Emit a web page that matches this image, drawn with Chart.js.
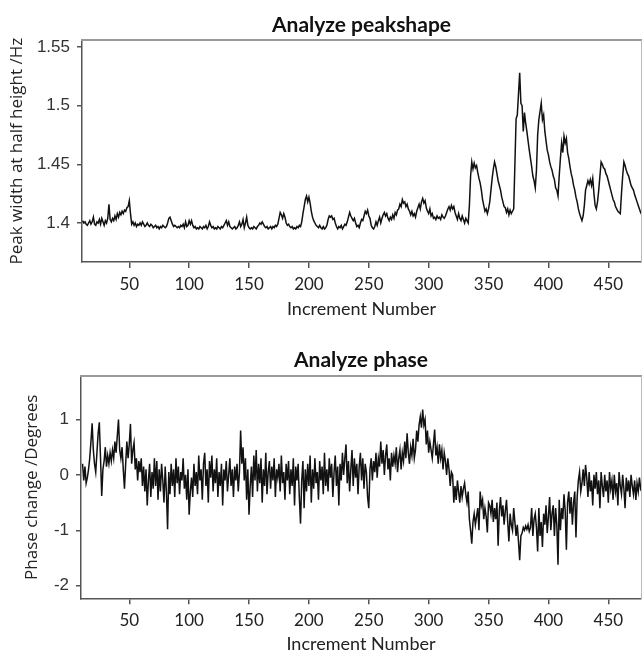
<!DOCTYPE html>
<html>
<head>
<meta charset="utf-8">
<script src="https://cdn.jsdelivr.net/npm/chart.js@4.4.1/dist/chart.umd.min.js"></script>
<style>
html, body { margin: 0; padding: 0; background: #fff; overflow: hidden; }
canvas { position: absolute; left: 0; }
#peakCanvas { top: 0; }
#phaseCanvas { top: 325px; }
</style>
</head>
<body>
<canvas id="peakCanvas" width="642" height="325"></canvas>
<canvas id="phaseCanvas" width="642" height="340"></canvas>
<script>
// increments run 11 .. 478, one value per increment
const firstIncrement = 11
const incrementTicks = [50, 100, 150, 200, 250, 300, 350, 400, 450]
const peakTicks = [1.4, 1.45, 1.5, 1.55]
const phaseTicks = [-2, -1, 0, 1]

const peakWidth = [
  1.402, 1.400, 1.401, 1.399, 1.398, 1.400, 1.402, 1.399, 1.401, 1.405,
  1.399, 1.398, 1.401, 1.400, 1.403, 1.399, 1.404, 1.401, 1.398, 1.402,
  1.400, 1.404, 1.416, 1.403, 1.401, 1.404, 1.402, 1.406, 1.403, 1.408,
  1.405, 1.409, 1.407, 1.410, 1.408, 1.411, 1.410, 1.413, 1.414, 1.419,
  1.408, 1.399, 1.401, 1.398, 1.400, 1.397, 1.399, 1.398, 1.400, 1.398,
  1.401, 1.399, 1.397, 1.398, 1.400, 1.398, 1.397, 1.399, 1.398, 1.396,
  1.397, 1.398, 1.396, 1.397, 1.395, 1.397, 1.396, 1.398, 1.397, 1.396,
  1.397, 1.400, 1.404, 1.405, 1.402, 1.399, 1.397, 1.398, 1.397, 1.396,
  1.397, 1.396, 1.398, 1.397, 1.399, 1.396, 1.401, 1.397, 1.398, 1.402,
  1.399, 1.402, 1.398, 1.396, 1.397, 1.395, 1.396, 1.395, 1.397, 1.396,
  1.395, 1.397, 1.396, 1.398, 1.395, 1.397, 1.401, 1.398, 1.396, 1.397,
  1.395, 1.396, 1.395, 1.397, 1.396, 1.395, 1.397, 1.396, 1.398, 1.400,
  1.402, 1.398, 1.401, 1.397, 1.396, 1.395, 1.396, 1.397, 1.395, 1.396,
  1.398, 1.401, 1.397, 1.399, 1.403, 1.396, 1.400, 1.405, 1.398, 1.396,
  1.395, 1.396, 1.395, 1.397, 1.396, 1.395, 1.397, 1.398, 1.400, 1.399,
  1.401, 1.399, 1.397, 1.396, 1.397, 1.395, 1.396, 1.397, 1.395, 1.397,
  1.396, 1.398, 1.397, 1.399, 1.404, 1.409, 1.407, 1.404, 1.408, 1.405,
  1.400, 1.398, 1.399, 1.397, 1.396, 1.397, 1.395, 1.396, 1.395, 1.397,
  1.396, 1.398, 1.397, 1.401, 1.408, 1.414, 1.420, 1.423, 1.418, 1.422,
  1.417, 1.410, 1.405, 1.402, 1.400, 1.398, 1.397, 1.396, 1.398, 1.396,
  1.395, 1.397, 1.395, 1.396, 1.398, 1.403, 1.406, 1.405, 1.406, 1.403,
  1.404, 1.400, 1.397, 1.395, 1.397, 1.396, 1.398, 1.395, 1.397, 1.399,
  1.398, 1.401, 1.405, 1.409, 1.406, 1.404, 1.402, 1.404, 1.400, 1.397,
  1.398, 1.396, 1.400, 1.403, 1.402, 1.406, 1.410, 1.408, 1.411, 1.406,
  1.404, 1.398, 1.396, 1.395, 1.397, 1.401, 1.398, 1.402, 1.405, 1.400,
  1.404, 1.407, 1.409, 1.406, 1.408, 1.404, 1.402, 1.405, 1.403, 1.407,
  1.404, 1.409, 1.407, 1.411, 1.412, 1.416, 1.414, 1.420, 1.417, 1.418,
  1.414, 1.416, 1.412, 1.410, 1.407, 1.410, 1.406, 1.408, 1.405, 1.410,
  1.413, 1.416, 1.412, 1.418, 1.421, 1.417, 1.419, 1.413, 1.410, 1.408,
  1.412, 1.406, 1.408, 1.404, 1.405, 1.403, 1.406, 1.404, 1.405, 1.403,
  1.407, 1.405, 1.404, 1.406, 1.409, 1.412, 1.414, 1.411, 1.415, 1.412,
  1.414, 1.409, 1.406, 1.403, 1.408, 1.404, 1.402, 1.406, 1.403, 1.400,
  1.404, 1.402, 1.400, 1.415, 1.440, 1.452, 1.446, 1.451, 1.447, 1.449,
  1.443, 1.438, 1.434, 1.428, 1.420, 1.415, 1.410, 1.412, 1.408, 1.412,
  1.418, 1.428, 1.438, 1.446, 1.452, 1.448, 1.442, 1.436, 1.432, 1.428,
  1.422, 1.418, 1.414, 1.413, 1.409, 1.412, 1.407, 1.411, 1.408, 1.410,
  1.412, 1.450, 1.489, 1.492, 1.510, 1.528, 1.502, 1.500, 1.478, 1.494,
  1.485, 1.478, 1.470, 1.462, 1.455, 1.448, 1.440, 1.436, 1.430, 1.445,
  1.475, 1.488, 1.495, 1.502, 1.488, 1.492, 1.478, 1.470, 1.462, 1.458,
  1.452, 1.448, 1.445, 1.440, 1.437, 1.430, 1.428, 1.423, 1.440, 1.455,
  1.468, 1.460, 1.474, 1.468, 1.472, 1.460, 1.455, 1.448, 1.442, 1.438,
  1.432, 1.428, 1.422, 1.418, 1.412, 1.408, 1.405, 1.402, 1.406, 1.415,
  1.428, 1.432, 1.436, 1.433, 1.437, 1.432, 1.438, 1.425, 1.415, 1.412,
  1.418, 1.428, 1.440, 1.452, 1.450, 1.447, 1.446, 1.442, 1.440, 1.436,
  1.432, 1.428, 1.424, 1.420, 1.418, 1.414, 1.412, 1.410, 1.409, 1.408,
  1.425, 1.440, 1.452, 1.449, 1.445, 1.442, 1.440, 1.436, 1.432, 1.430,
  1.428, 1.424, 1.421, 1.418, 1.415, 1.412, 1.409, 1.407
]

const phaseChange = [
  0.2, -0.1, 0.15, -0.15, -0.05, 0.1, 0.3, 0.6, 0.93, 0.45,
  0.2, 0.05, 0.4, 0.75, 0.95, 0.3, -0.38, 0.1, 0.25, 0.5,
  0.15, 0.35, 0.2, 0.4, 0.25, 0.45, 0.3, 0.6, 0.4, 0.7,
  1.0, 0.45, 0.3, 0.5, 0.1, -0.25, 0.2, 0.6, 0.3, 0.55,
  0.92, 0.2, 0.45, 0.58, 0.1, 0.3, -0.1, 0.25, 0.05, 0.3,
  -0.2, 0.15, -0.3, 0.1, -0.55, -0.1, 0.2, -0.4, 0.05, -0.25,
  0.3, -0.2, 0.25, -0.45, 0.1, -0.3, 0.2, -0.1, -0.5, 0.15,
  -0.3, -0.98, 0.05, -0.35, 0.2, -0.2, 0.1, -0.4, 0.3, -0.15,
  0.15, -0.35, 0.05, -0.1, 0.3, -0.25, 0.0, -0.45, 0.1, -0.72,
  -0.3, -0.05, -0.4, 0.2, -0.2, 0.05, -0.35, 0.35, -0.1, 0.1,
  -0.45, 0.2, 0.4, -0.2, 0.1, -0.5, 0.25, -0.05, 0.35, -0.3,
  0.1, -0.15, 0.3, -0.4, 0.05, -0.2, 0.2, -0.55, 0.1, -0.1,
  0.25, -0.3, 0.0, 0.3, -0.2, 0.1, -0.4, 0.15, -0.1, 0.2,
  -0.3, 0.05, 0.8, 0.2, 0.5, -0.1, 0.3, -0.45, 0.1, -0.72,
  -0.2, 0.15, -0.4, 0.35, -0.1, 0.45, -0.3, 0.2, -0.15, 0.3,
  -0.5, 0.1, -0.2, 0.4, -0.35, 0.05, 0.25, -0.25, 0.15, -0.1,
  0.3, -0.4, 0.1, -0.05, 0.2, -0.3, 0.35, -0.15, 0.05, -0.45,
  0.2, -0.1, 0.25, -0.35, 0.1, -0.2, 0.3, -0.55, 0.15, -0.1,
  0.2, -0.4, -0.88, -0.1, 0.25, -0.6, 0.1, -0.3, 0.2, -0.2,
  0.35, -0.5, 0.1, -0.25, 0.3, -0.15, 0.05, -0.45, 0.25, -0.1,
  0.15, -0.35, 0.4, -0.2, 0.1, -0.3, 0.3, -0.05, 0.2, -0.4,
  0.05, 0.35, -0.2, 0.15, -0.55, 0.2, -0.1, 0.4, 0.0, 0.3,
  0.55, -0.15, 0.25, -0.3, 0.1, 0.45, -0.2, 0.3, -0.05, 0.2,
  -0.35, 0.15, 0.4, -0.1, 0.3, -0.25, 0.2, 0.05, -0.4, -0.6,
  0.1, 0.3, -0.1, 0.25, 0.05, 0.4, -0.05, 0.3, 0.15, 0.6,
  0.2, 0.45, 0.0, 0.35, 0.55, 0.1, 0.3, -0.1, 0.4, 0.15,
  0.35, 0.2, 0.5, 0.05, 0.3, 0.45, 0.1, 0.4, 0.25, 0.6,
  0.3, 0.75, 0.4, 0.2, 0.5, 0.35, 0.65, 0.3, 0.45, 0.8,
  0.6, 0.9, 1.05, 0.85, 1.18, 0.9, 1.0, 0.55, 0.8, 0.4,
  0.6, 0.45, 0.3, 0.55, 0.82, 0.35, 0.5, 0.2, 0.55, 0.3,
  0.45, 0.1, 0.4, 0.25, 0.0, 0.3, 0.1, -0.2, 0.05, 0.0,
  -0.5, -0.2, -0.45, -0.1, -0.3, -0.5, -0.2, -0.4, -0.25, -0.15,
  -0.35, -0.5, -0.3, -0.8, -1.0, -1.24, -0.85, -0.7, -0.9, -0.75,
  -0.6, -1.0, -0.3, -0.55, -0.45, -0.8, -0.6, -0.75, -1.04, -0.5,
  -0.55, -0.7, -0.45, -0.85, -0.6, -0.8, -0.5, -1.28, -0.65, -0.4,
  -0.75, -0.55, -0.9, -0.65, -0.45, -0.85, -1.2, -0.7, -0.9, -1.0,
  -0.6, -0.85, -1.1, -0.9, -1.2, -1.54, -1.1, -1.05, -0.95, -1.0,
  -0.92, -0.98, -0.9, -1.02, -0.95, -0.6, -1.1, -0.8, -0.7, -0.95,
  -1.38, -0.6, -1.1, -0.85, -1.3, -0.7, -0.9, -0.55, -1.05, -0.75,
  -0.4, -1.0, -0.7, -0.55, -1.1, -0.6, -0.9, -1.62, -0.45, -1.0,
  -0.6, -0.8, -0.35, -0.65, -1.35, -0.5, -0.3, -0.7, -0.4, -0.9,
  -0.5, -0.3, -1.13, -0.4, -0.1, 0.05, -0.3, -0.15, 0.1, -0.2,
  0.18, -0.05, -0.4, 0.05, -0.3, -0.1, -0.55, 0.0, -0.25, 0.05,
  -0.35, -0.1, -0.6, 0.05, -0.2, -0.4, 0.0, -0.3, -0.1, -0.5,
  0.05, -0.25, -0.1, -0.45, 0.0, -0.3, -0.15, -0.55, 0.05, -0.2,
  -0.35, 0.0, -0.25, -0.6, -0.05, -0.3, -0.1, -0.4, 0.0, -0.2,
  -0.35, -0.1, -0.45, -0.15, -0.3, -0.05, -0.25, -0.2
]

const axisColor = '#555'
const frameColor = '#999'
const textColor = '#222'

function toPoints(values) {
  return values.map((v, i) => ({ x: firstIncrement + i, y: v }))
}

function makePanel(canvasId, cfg) {
  const ctx = document.getElementById(canvasId).getContext('2d')
  return new Chart(ctx, {
    type: 'line',
    data: {
      datasets: [{
        data: toPoints(cfg.values),
        borderColor: '#111',
        borderWidth: 1.5,
        pointRadius: 0,
        tension: 0,
        fill: false
      }]
    },
    options: {
      responsive: false,
      animation: false,
      devicePixelRatio: 1,
      layout: { padding: { left: 0, right: 1, top: 0, bottom: 0 } },
      plugins: {
        legend: { display: false },
        tooltip: { enabled: false },
        title: {
          display: true,
          text: cfg.title,
          fullSize: false,
          color: '#111',
          font: { family: 'Lato', size: 21, weight: 'bold' },
          padding: cfg.titlePadding
        }
      },
      scales: {
        x: {
          type: 'linear',
          position: 'bottom',
          min: cfg.xMin,
          max: 477.3,
          afterBuildTicks: s => { s.ticks = incrementTicks.map(v => ({ value: v })) },
          afterFit: s => { s.height = cfg.xAxisHeight },
          grid: { drawOnChartArea: false, drawTicks: true, tickLength: 6, color: axisColor, lineWidth: 1.5 },
          border: { color: axisColor, width: 1.5 },
          ticks: {
            color: textColor,
            padding: 6,
            maxRotation: 0,
            font: { family: 'Lato', size: 17 },
            callback: v => String(v)
          },
          title: {
            display: true,
            text: 'Increment Number',
            color: textColor,
            font: { family: 'Lato', size: 18 },
            padding: { top: 0, bottom: cfg.xTitlePad }
          }
        },
        y: {
          type: 'linear',
          position: 'left',
          min: cfg.yMin,
          max: cfg.yMax,
          afterBuildTicks: s => { s.ticks = cfg.yTicks.map(v => ({ value: v })) },
          afterFit: s => { s.width = cfg.yAxisWidth },
          grid: { drawOnChartArea: false, drawTicks: true, tickLength: 5, color: axisColor, lineWidth: 1.5 },
          border: { color: axisColor, width: 1.5 },
          ticks: {
            color: '#333',
            padding: 7,
            font: { family: 'Liberation Sans', size: 17 },
            callback: v => String(v)
          },
          title: {
            display: true,
            text: cfg.yTitle,
            color: textColor,
            font: { family: 'Open Sans', size: 17 },
            padding: { top: cfg.yTitlePad, bottom: 0 }
          }
        },
        frameTop: {
          type: 'linear',
          position: 'top',
          min: 0, max: 1,
          ticks: { display: false },
          grid: { drawOnChartArea: false, drawTicks: false },
          border: { color: frameColor, width: 2 }
        },
        frameRight: {
          type: 'linear',
          position: 'right',
          min: 0, max: 1,
          ticks: { display: false },
          grid: { drawOnChartArea: false, drawTicks: false },
          border: { color: '#bbb', width: 1 }
        }
      }
    }
  })
}

makePanel('peakCanvas', {
  values: peakWidth,
  title: 'Analyze peakshape',
  titlePadding: { top: 13, bottom: 2 },
  xMin: 10.5,
  xAxisHeight: 63,
  xTitlePad: 5,
  yMin: 1.3668,
  yMax: 1.5557,
  yTicks: peakTicks,
  yAxisWidth: 82,
  yTitle: 'Peak width at half height /Hz',
  yTitlePad: 7,
})

makePanel('phaseCanvas', {
  values: phaseChange,
  title: 'Analyze phase',
  titlePadding: { top: 23, bottom: 3 },
  xMin: 9.7,
  xAxisHeight: 66.7,
  xTitlePad: 10,
  yMin: -2.227,
  yMax: 1.781,
  yTicks: phaseTicks,
  yAxisWidth: 81,
  yTitle: 'Phase change /Degrees',
  yTitlePad: 22
})
</script>
</body>
</html>
